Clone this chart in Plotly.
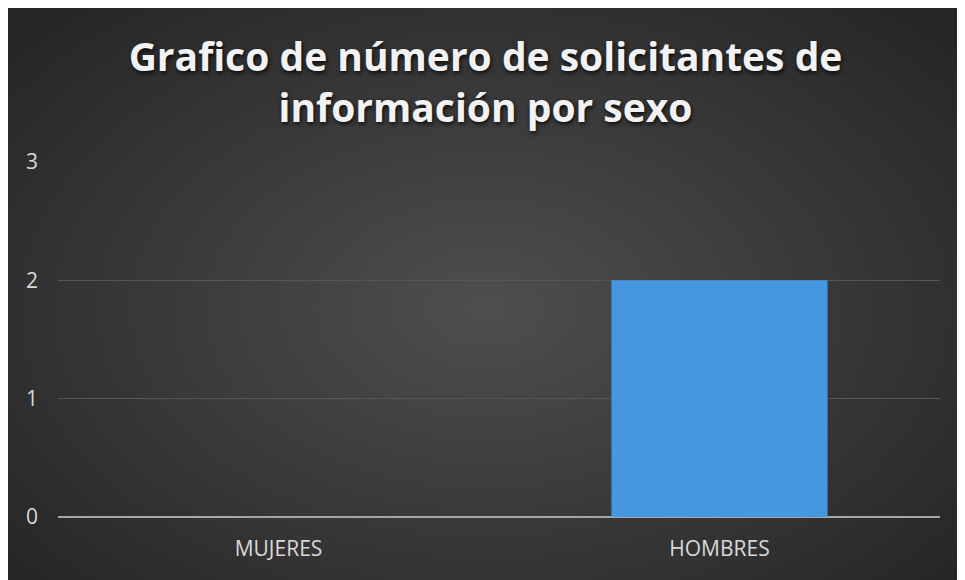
import plotly.graph_objects as go

categories = ["MUJERES", "HOMBRES"]
values = [0, 2]
y_ticks = [0, 1, 2, 3]
title_text = "Grafico de número de solicitantes de<br>información por sexo"

# the page places the figure 8px in from the top-left corner
W, H = 955, 572
ML, MR, MT, MB = 50, 23, 154, 63
PW, PH = W - ML - MR, H - MT - MB


def px_x(p):
    return (p - ML) / PW


def px_y(p):
    return (H - MB - p) / PH


fig = go.Figure()
fig.add_trace(go.Bar(
    x=categories, y=values,
    marker=dict(color="#4597e0", line=dict(width=0)),
    width=0.49,
))

shapes = []
# radial gradient approximation (stacked translucent ellipses)
N = 40
cx, cy = 477, 300
for i in range(N):
    f = 1 - i / N
    rx, ry = 620 * f, 400 * f
    shapes.append(dict(
        type="circle", xref="paper", yref="paper", layer="below",
        x0=px_x(cx - rx), x1=px_x(cx + rx), y0=px_y(cy + ry), y1=px_y(cy - ry),
        fillcolor="white", opacity=0.0064, line=dict(width=0),
    ))

fig.update_layout(
    width=W, height=H,
    margin=dict(l=ML, r=MR, t=MT, b=MB),
    paper_bgcolor="#262626",
    plot_bgcolor="rgba(0,0,0,0)",
    shapes=shapes,
    showlegend=False,
    title=dict(
        text=title_text, x=0.5, xanchor="center", y=1 - 63 / H, yanchor="top",
        font=dict(family="Open Sans", size=39, color="#f2f2f2", weight="bold",
                  shadow="1px 2px 4px rgba(0,0,0,0.85)"),
    ),
    font=dict(family="Open Sans", color="#d9d9d9"),
)
fig.update_xaxes(
    showgrid=False, ticks="", tickfont=dict(size=21, color="#d9d9d9"),
    showline=False, zeroline=False, ticklabelstandoff=17,
)
fig.update_yaxes(
    range=[0, 3], tickvals=y_ticks, ticks="", showline=False,
    gridcolor="#565656", gridwidth=1,
    zeroline=True, zerolinecolor="#a6a6a6", zerolinewidth=2,
    tickfont=dict(size=21, color="#d9d9d9"), ticklabelstandoff=19,
)
fig.write_html("out.html")
